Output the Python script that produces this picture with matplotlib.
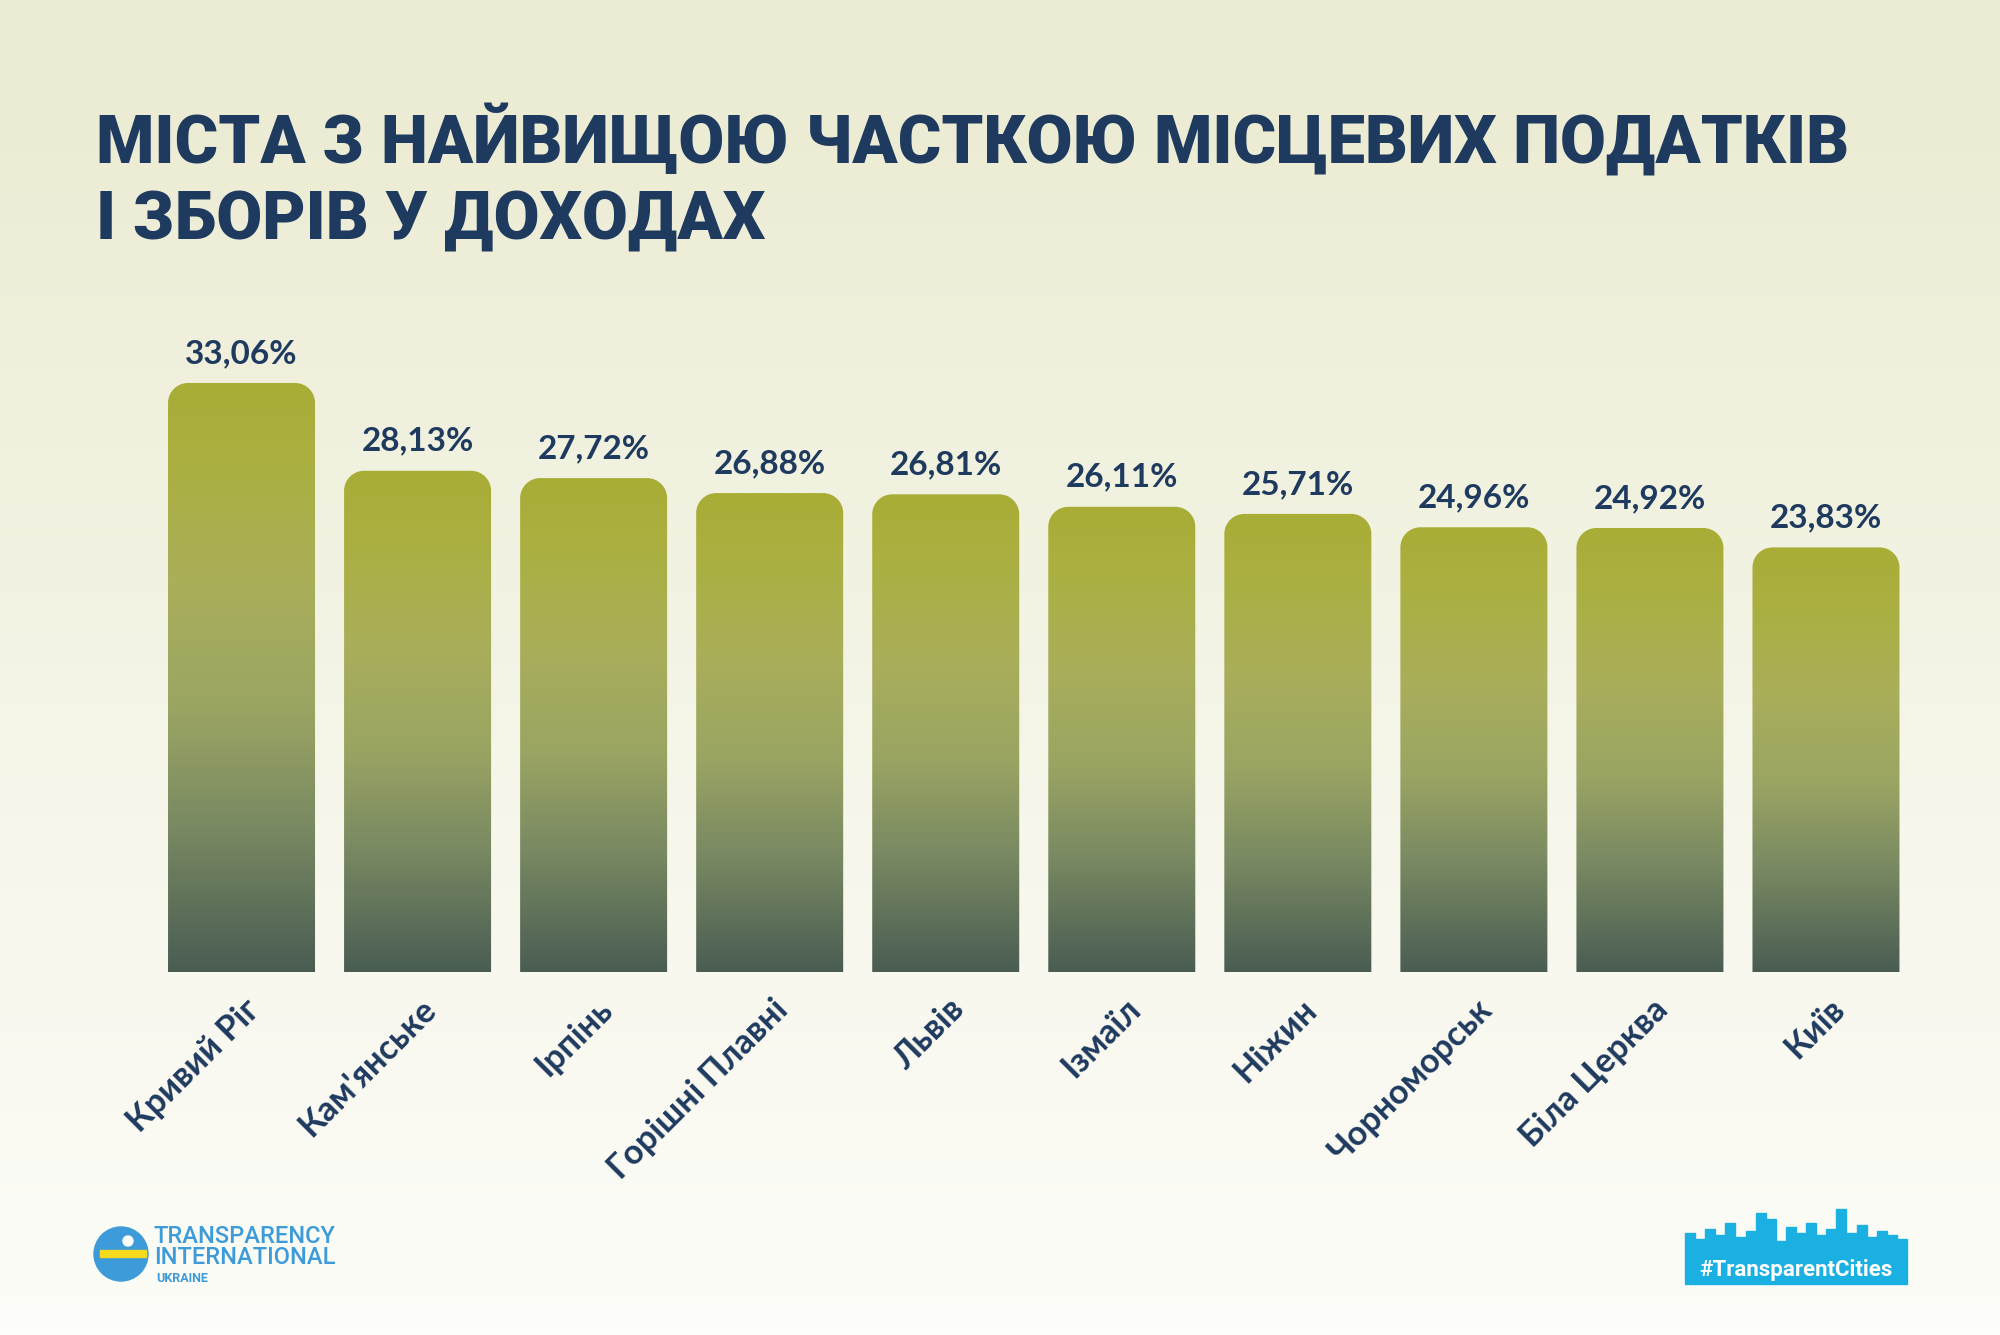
import numpy as np
import matplotlib
matplotlib.use("Agg")
import matplotlib.pyplot as plt
from matplotlib.path import Path
from matplotlib.patches import PathPatch, Circle, Rectangle, Polygon
from matplotlib.colors import LinearSegmentedColormap
import matplotlib.transforms as mtransforms

# ---- data ----
cities = ["Кривий Ріг", "Кам'янське", "Ірпінь", "Горішні Плавні", "Львів",
          "Ізмаїл", "Ніжин", "Чорноморськ", "Біла Церква", "Київ"]
shares = [33.06, 28.13, 27.72, 26.88, 26.81, 26.11, 25.71, 24.96, 24.92, 23.83]
title_lines = ["МІСТА З НАЙВИЩОЮ ЧАСТКОЮ МІСЦЕВИХ ПОДАТКІВ", "І ЗБОРІВ У ДОХОДАХ"]

NAVY = "#1f3a5f"
W, H = 2000, 1335
fig = plt.figure(figsize=(W / 100, H / 100), dpi=100)

# background gradient
bg = fig.add_axes([0, 0, 1, 1], zorder=-10)
bg_cmap = LinearSegmentedColormap.from_list("bg", ["#ebebd1", "#f4f4e6", "#fdfdf9"])
bg.imshow(np.linspace(0, 1, 256).reshape(-1, 1), aspect="auto", cmap=bg_cmap,
          extent=[0, 1, 0, 1], origin="upper")
bg.set_axis_off()

# main axes
ax_rect = [153.5 / W, 1 - 972 / H, 1760.5 / W, 623.6 / H]
ax = fig.add_axes(ax_rect)
ax.set_xlim(-0.5, len(cities) - 0.5)
ax.set_ylim(0, 35)
ax.patch.set_alpha(0)
for s in ax.spines.values():
    s.set_visible(False)
ax.set_yticks([])

bar_cmap = LinearSegmentedColormap.from_list(
    "bar", [(0.0, "#4a5d53"), (0.25, "#7a8a62"), (0.45, "#9ba563"),
            (0.65, "#a9ae5a"), (0.85, "#abb042"), (1.0, "#a8ad36")])

width = 0.835
px_x = ax_rect[2] * W / (ax.get_xlim()[1] - ax.get_xlim()[0])
px_y = ax_rect[3] * H / (ax.get_ylim()[1] - ax.get_ylim()[0])
r_px = 20
rx, ry = r_px / px_x, r_px / px_y
k = 0.5523

grad = np.linspace(0, 1, 256).reshape(-1, 1)
for i, v in enumerate(shares):
    x0, x1 = i - width / 2, i + width / 2
    verts = [(x0, 0), (x0, v - ry),
             (x0, v - ry + k * ry), (x0 + rx - k * rx, v), (x0 + rx, v),
             (x1 - rx, v),
             (x1 - rx + k * rx, v), (x1, v - ry + k * ry), (x1, v - ry),
             (x1, 0), (x0, 0)]
    codes = [Path.MOVETO, Path.LINETO,
             Path.CURVE4, Path.CURVE4, Path.CURVE4,
             Path.LINETO,
             Path.CURVE4, Path.CURVE4, Path.CURVE4,
             Path.LINETO, Path.CLOSEPOLY]
    patch = PathPatch(Path(verts, codes), facecolor="none", edgecolor="none")
    ax.add_patch(patch)
    im = ax.imshow(grad, cmap=bar_cmap, aspect="auto", origin="lower",
                   extent=[x0, x1, 0, v], zorder=2)
    im.set_clip_path(patch)
    ax.annotate(f"{v:.2f}".replace(".", ",") + "%", xy=(i, v),
                xytext=(0, 20 * 0.72), textcoords="offset points",
                ha="center", va="baseline", fontsize=24, color=NAVY,
                fontfamily="Lato", fontweight="bold")

ax.set_xlim(-0.5, len(cities) - 0.5)
ax.set_ylim(0, 35)
ax.set_xticks(range(len(cities)))
ax.set_xticklabels(cities, rotation=45, ha="right", va="top",
                   rotation_mode="anchor", fontsize=24.5, color=NAVY,
                   fontfamily="Lato", fontweight="bold")
ax.tick_params(axis="x", length=0, pad=15)
offset = mtransforms.ScaledTranslation(2 / 100, 0, fig.dpi_scale_trans)
for lab in ax.get_xticklabels():
    lab.set_transform(lab.get_transform() + offset)

# title
fig.text(96 / W, 1 - 163 / H, title_lines[0], ha="left", va="baseline",
         fontsize=48, color=NAVY, fontfamily="Roboto", fontweight="black")
fig.text(96 / W, 1 - 240 / H, title_lines[1], ha="left", va="baseline",
         fontsize=48, color=NAVY, fontfamily="Roboto", fontweight="black")

# TI Ukraine logo (decoration)
TI_BLUE = "#3d9bd9"
logo = fig.add_axes([0, 0, 1, 1], zorder=5)
logo.set_xlim(0, W)
logo.set_ylim(H, 0)
logo.set_axis_off()
logo.add_patch(Circle((121, 1254), 27, color=TI_BLUE))
logo.add_patch(Rectangle((100, 1250), 46, 7, color="#f5d91c"))
logo.add_patch(Circle((128, 1241), 5, color="white"))
logo.text(154, 1243, "TRANSPARENCY", fontsize=17, color=TI_BLUE,
          fontfamily="Roboto", fontweight="medium", va="baseline")
logo.text(154, 1264, "INTERNATIONAL", fontsize=17, color=TI_BLUE,
          fontfamily="Roboto", fontweight="medium", va="baseline")
logo.text(156, 1282, "UKRAINE", fontsize=9, color=TI_BLUE,
          fontfamily="Roboto", fontweight="bold", va="baseline")

# #TransparentCities logo (decoration)
CY = "#1bb0e2"
skyline_h = [20, 14, 24, 18, 30, 16, 22, 40, 34, 12, 26, 20, 30, 18, 24, 44, 20, 28, 16, 22, 18, 14]
xs = np.linspace(1685, 1907, len(skyline_h) + 1)
pts = [(1685, 1284)]
for j, h in enumerate(skyline_h):
    pts += [(xs[j], 1253 - h), (xs[j + 1], 1253 - h)]
pts += [(1907, 1284)]
logo.add_patch(Polygon(pts, closed=True, color=CY))
logo.text(1796, 1276, "#TransparentCities", fontsize=16, color="white",
          fontfamily="Roboto", fontweight="bold", ha="center", va="baseline")

fig.savefig("out.png", dpi=100)
